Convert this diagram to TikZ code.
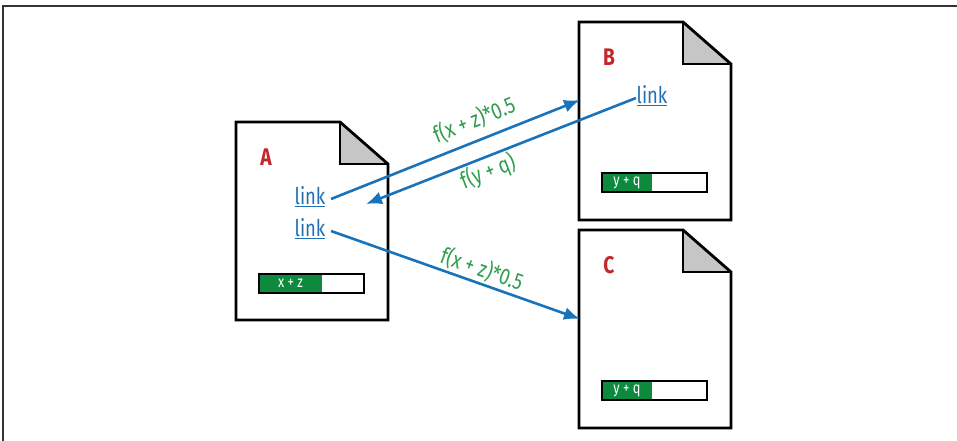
\documentclass[tikz,border=0pt]{standalone}
\usepackage{fontspec}
\setmainfont[FakeStretch=0.8]{Fira Sans}
\usetikzlibrary{arrows.meta}
\definecolor{linkblue}{HTML}{1F6FB4}
\definecolor{arrblue}{HTML}{1873BA}
\definecolor{labgreen}{HTML}{2E9E4C}
\definecolor{bargreen}{HTML}{0E8A3E}
\definecolor{letred}{HTML}{C1272D}
\definecolor{foldgray}{HTML}{C6C6C6}
\newcommand\drawdoc[4]{%
  \begin{scope}[shift={(#1,#2)}]
    \fill[foldgray] (104,0) -- (104,42) -- (152,42) -- cycle;
    \draw[docline] (0,0) -- (104,0) -- (152,42) -- (152,198) -- (0,198) -- cycle;
    \draw[docline] (104,0) -- (104,42) -- (152,42);
    \node[letter] (#4) at (30,35) {#3};
  \end{scope}}
\newcommand\drawbar[5]{%
  \begin{scope}[shift={(#1,#2)}]
    \fill[bargreen] (0,0) rectangle (#3,19);
    \draw[line width=2.4pt] (0,0) rectangle (105,19);
    \node[bartext] (#5) at (#3/2,9.5) {#4};
  \end{scope}}
\tikzset{
  docline/.style={line width=2.8pt, line join=miter},
  letter/.style={font=\fontsize{24}{26}\selectfont\bfseries, text=letred, inner sep=0pt},
  linktext/.style={font=\fontsize{23}{26}\selectfont, text=linkblue, inner sep=2pt},
  bartext/.style={font=\fontsize{16}{18}\selectfont, text=white, inner sep=0pt},
  flabel/.style={font=\fontsize{23}{25}\selectfont, text=labgreen, inner sep=0pt},
  arr/.style={draw=arrblue, line width=2.6pt, -{Latex[length=16pt,width=13pt]}},
}
\begin{document}
\begin{tikzpicture}[x=1pt,y=-1pt]
\useasboundingbox (0,0) rectangle (957,441);
\draw[line width=1.8pt, black!80] (3,441) -- (3,6) -- (957,6);
% documents
\drawdoc{236}{122}{A}{A}
\drawdoc{579}{22}{B}{B}
\drawdoc{579}{230}{C}{C}
% bars
\drawbar{259}{274}{63}{x + z}{barA}
\drawbar{602}{173}{50}{y + q}{barB}
\drawbar{602}{381}{50}{y + q}{barC}
% links
\node[linktext] (lA1) at (310,197) {\underline{link}};
\node[linktext] (lA2) at (310,229) {\underline{link}};
\node[linktext] (lB) at (652,96) {\underline{link}};
% arrow endpoints
\coordinate (b1) at (580,100);
\coordinate (a1) at (366,204);
\coordinate (c1) at (580,319);
\draw[arr] (331,199) -- (b1);
\draw[arr] (636,98) -- (a1);
\draw[arr] (331,231) -- (c1);
% labels
\node[flabel, rotate=21.8] (f1) at (474,120) {f(x + z)*0.5};
\node[flabel, rotate=21.4] (f2) at (488,172) {f(y + q)};
\node[flabel, rotate=-19.5] (f3) at (482,269) {f(x + z)*0.5};
\end{tikzpicture}
\end{document}
